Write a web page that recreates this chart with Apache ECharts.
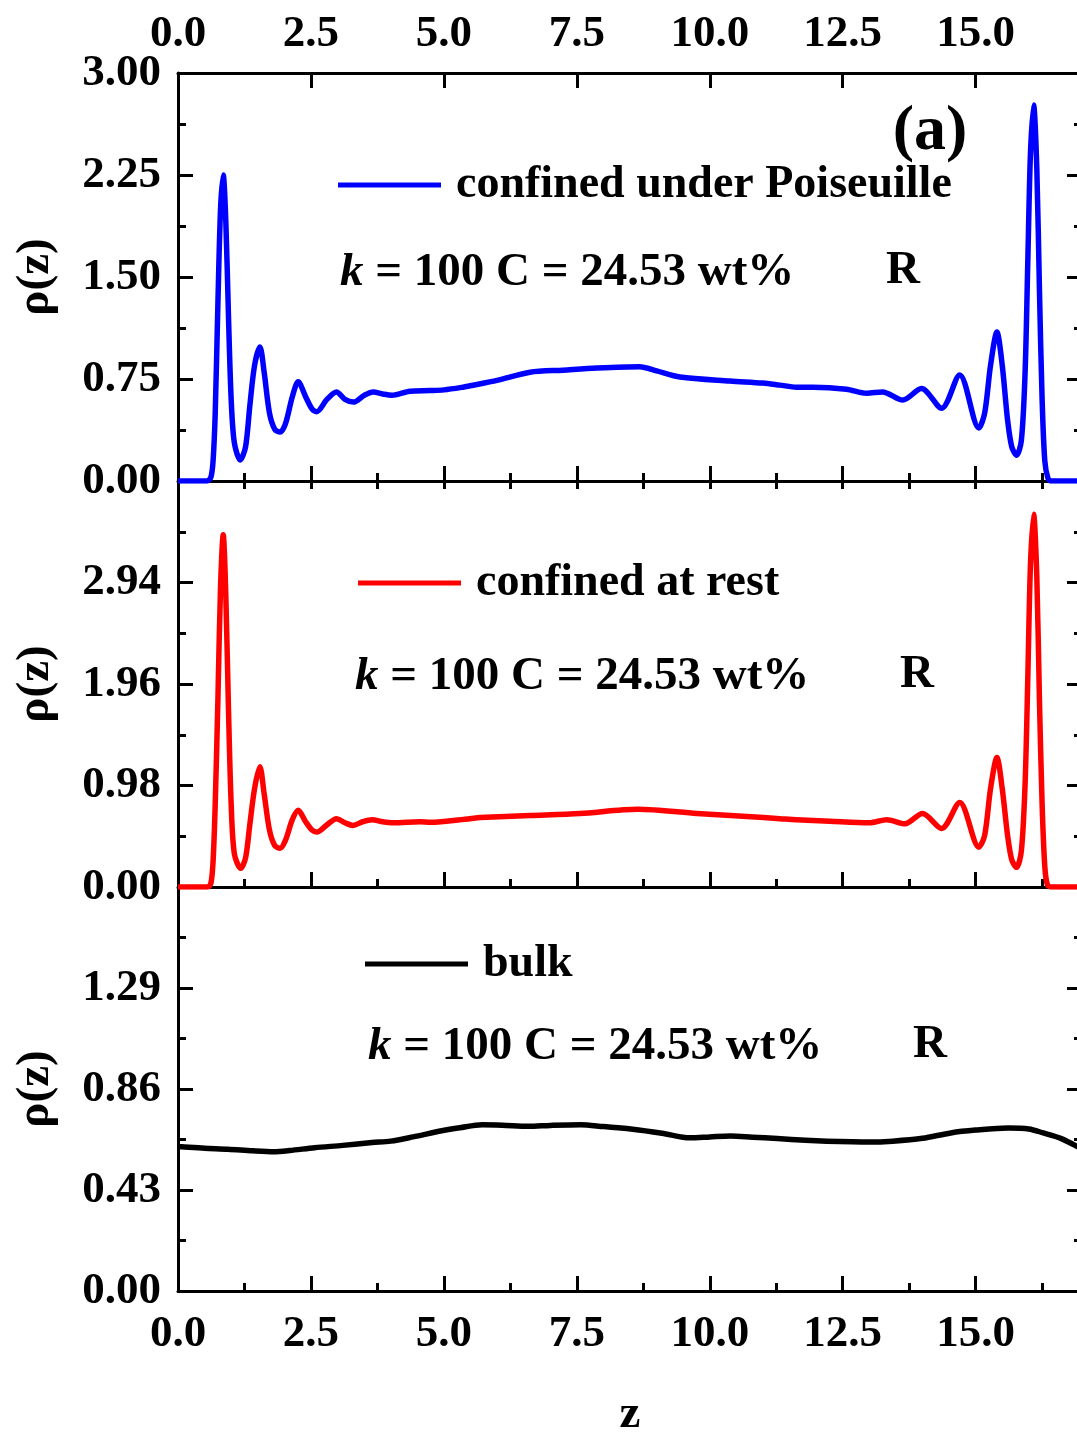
<!DOCTYPE html>
<html>
<head>
<meta charset="utf-8">
<script src="https://cdn.jsdelivr.net/npm/echarts@6/dist/echarts.min.js"></script>
<style>
  html, body { margin: 0; padding: 0; background: #fff; overflow: hidden; }
  #chart { width: 1090px; height: 1439px; }
</style>
</head>
<body>
<div id="chart"></div>
<script>
// Density profiles rho(z) across the channel
const poiseuilleZ = [0, 0.55, 0.62, 0.66, 0.70, 0.75, 0.80, 0.85, 0.90, 0.95, 1.00, 1.06, 1.17, 1.27, 1.35, 1.44, 1.54, 1.62, 1.72, 1.82, 1.92, 2.02, 2.15, 2.26, 2.40, 2.52, 2.61, 2.80, 2.98, 3.14, 3.30, 3.50, 3.67, 3.85, 4.02, 4.36, 4.74, 5.00, 5.36, 5.49, 6.00, 6.62, 7.24, 7.87, 8.68, 9.00, 9.44, 10.38, 11.00, 11.32, 11.63, 11.94, 12.57, 12.95, 13.25, 13.63, 13.98, 14.36, 14.70, 15.06, 15.17, 15.28, 15.40, 15.50, 15.60, 15.68, 15.77, 15.86, 15.93, 15.98, 16.03, 16.09, 16.15, 16.20, 16.25, 16.30, 16.36, 16.42, 17.0];
const poiseuilleRho = [0, 0, 0.03, 0.15, 0.50, 1.30, 2.00, 2.25, 1.90, 1.20, 0.60, 0.28, 0.155, 0.25, 0.55, 0.85, 0.985, 0.80, 0.50, 0.38, 0.36, 0.42, 0.62, 0.73, 0.62, 0.53, 0.51, 0.60, 0.655, 0.60, 0.58, 0.63, 0.655, 0.64, 0.63, 0.66, 0.665, 0.67, 0.69, 0.70, 0.74, 0.80, 0.815, 0.83, 0.84, 0.81, 0.765, 0.735, 0.72, 0.705, 0.69, 0.69, 0.675, 0.645, 0.655, 0.595, 0.68, 0.535, 0.78, 0.39, 0.50, 0.85, 1.095, 0.85, 0.45, 0.25, 0.19, 0.30, 0.80, 1.60, 2.40, 2.765, 2.30, 1.40, 0.60, 0.15, 0.02, 0, 0];

const restZ = [0, 0.56, 0.62, 0.66, 0.70, 0.75, 0.80, 0.85, 0.90, 0.95, 1.00, 1.06, 1.18, 1.27, 1.35, 1.44, 1.54, 1.62, 1.72, 1.82, 1.92, 2.02, 2.15, 2.26, 2.40, 2.52, 2.61, 2.80, 2.98, 3.14, 3.29, 3.47, 3.65, 3.85, 4.05, 4.55, 4.74, 5.49, 5.68, 6.62, 7.56, 8.65, 9.76, 10.70, 11.32, 11.63, 12.26, 13.00, 13.33, 13.67, 14.00, 14.36, 14.70, 15.06, 15.17, 15.28, 15.40, 15.50, 15.60, 15.68, 15.77, 15.86, 15.93, 15.98, 16.03, 16.09, 16.15, 16.20, 16.25, 16.30, 16.35, 16.42, 17.0];
const restRho = [0, 0, 0.04, 0.25, 0.80, 1.80, 2.90, 3.40, 2.80, 1.70, 0.80, 0.32, 0.18, 0.28, 0.60, 0.95, 1.16, 0.90, 0.55, 0.40, 0.375, 0.45, 0.65, 0.74, 0.63, 0.55, 0.53, 0.60, 0.66, 0.62, 0.595, 0.63, 0.65, 0.63, 0.62, 0.63, 0.625, 0.66, 0.67, 0.69, 0.71, 0.75, 0.71, 0.68, 0.66, 0.65, 0.635, 0.62, 0.65, 0.61, 0.71, 0.565, 0.815, 0.385, 0.50, 0.95, 1.25, 0.95, 0.50, 0.26, 0.19, 0.35, 1.00, 2.00, 3.10, 3.60, 3.00, 1.80, 0.80, 0.20, 0.02, 0, 0];

const bulkZ = [0, 0.07, 0.5, 0.94, 1.4, 1.8, 2.1, 2.57, 3.1, 3.65, 4.0, 4.42, 4.96, 5.3, 5.72, 6.1, 6.59, 7.0, 7.57, 8.0, 8.55, 9.1, 9.63, 10.0, 10.39, 10.8, 11.27, 11.8, 12.2, 12.68, 13.0, 13.44, 14.0, 14.53, 15.0, 15.61, 16.0, 16.27, 16.6, 16.86, 17.0];
const bulkRho = [0.615, 0.614, 0.608, 0.604, 0.597, 0.593, 0.598, 0.61, 0.62, 0.632, 0.638, 0.656, 0.682, 0.695, 0.708, 0.706, 0.701, 0.705, 0.708, 0.70, 0.689, 0.672, 0.652, 0.656, 0.66, 0.655, 0.649, 0.642, 0.638, 0.635, 0.634, 0.638, 0.65, 0.673, 0.685, 0.694, 0.69, 0.673, 0.65, 0.621, 0.605];

// Panel scales: [max, interval]
const panelY = [[3.00, 0.75], [3.92, 0.98], [1.72, 0.43]];
const zTicks = { min: 0, max: 17, major: 2.5, minor: 1.25 };

const seriesNames = ['confined under Poiseuille', 'confined at rest', 'bulk'];
const seriesColors = ['#0000ff', '#ff0000', '#000000'];

const FONT = '"Liberation Serif", "Times New Roman", serif';
const TICK_FS = 45;
const TXT_FS = 47;

const grids = [
  { left: 178, top: 73, width: 904, height: 408 },
  { left: 178, top: 481, width: 904, height: 406 },
  { left: 178, top: 887, width: 904, height: 407 }
];

function pairs(xs, ys) { return xs.map((x, i) => [x, ys[i]]); }

const lineAx = { show: true, onZero: false, lineStyle: { color: '#000', width: 3 } };
const tickLbl = { fontFamily: FONT, fontWeight: 'bold', fontSize: TICK_FS, color: '#000' };

function xMajor(gi, pos, labels, margin, extra) {
  return Object.assign({
    type: 'value', gridIndex: gi, position: pos,
    min: zTicks.min, max: zTicks.max, interval: zTicks.major,
    axisLine: lineAx,
    axisTick: { show: true, inside: true, length: 15, lineStyle: { width: 3, color: '#000' } },
    axisLabel: labels ? Object.assign({ show: true, margin: margin, showMaxLabel: false, formatter: v => v.toFixed(1) }, tickLbl) : { show: false },
    splitLine: { show: false }
  }, extra || {});
}
function xMinor(gi, pos) {
  return {
    type: 'value', gridIndex: gi, position: pos,
    min: zTicks.min, max: zTicks.max, interval: zTicks.minor,
    axisLine: { show: false },
    axisTick: { show: true, inside: true, length: 8, lineStyle: { width: 3, color: '#000' } },
    axisLabel: { show: false }, splitLine: { show: false }
  };
}

const xAxis = [
  xMajor(0, 'bottom', false), xMinor(0, 'bottom'),
  xMajor(0, 'top', true, 16), xMinor(0, 'top'),
  xMajor(1, 'bottom', false), xMinor(1, 'bottom'),
  xMajor(2, 'bottom', true, 21, {
    name: 'z', nameLocation: 'middle', nameGap: 100,
    nameTextStyle: { fontFamily: FONT, fontWeight: 'bold', fontSize: TXT_FS, color: '#000' }
  }),
  xMinor(2, 'bottom')
];

const yAxis = [];
panelY.forEach((p, gi) => {
  const [max, step] = p;
  yAxis.push({
    type: 'value', gridIndex: gi, position: 'left', min: 0, max: max, interval: step,
    name: 'ρ(z)', nameLocation: 'middle', nameGap: 119,
    nameTextStyle: { fontFamily: FONT, fontWeight: 'bold', fontSize: TXT_FS, color: '#000' },
    axisLine: lineAx,
    axisTick: { show: true, inside: true, length: 15, lineStyle: { width: 3, color: '#000' } },
    minorTick: { show: true, splitNumber: 2, length: 8, lineStyle: { width: 3, color: '#000' } },
    axisLabel: Object.assign({ show: true, margin: 17, showMaxLabel: gi === 0, formatter: v => v.toFixed(2) }, tickLbl),
    splitLine: { show: false }, minorSplitLine: { show: false }
  });
  yAxis.push({
    type: 'value', gridIndex: gi, position: 'right', min: 0, max: max, interval: step,
    axisLine: lineAx,
    axisTick: { show: true, inside: true, length: 15, lineStyle: { width: 3, color: '#000' } },
    minorTick: { show: true, splitNumber: 2, length: 8, lineStyle: { width: 3, color: '#000' } },
    axisLabel: { show: false }, splitLine: { show: false }, minorSplitLine: { show: false }
  });
});

const dataSets = [pairs(poiseuilleZ, poiseuilleRho), pairs(restZ, restRho), pairs(bulkZ, bulkRho)];
const series = dataSets.map((d, i) => ({
  name: seriesNames[i], type: 'line', xAxisIndex: [0, 4, 6][i], yAxisIndex: i * 2,
  data: d, showSymbol: false, symbol: 'none', smooth: 0.3,
  lineStyle: { color: seriesColors[i], width: 5.5, join: 'round' },
  itemStyle: { color: seriesColors[i] }, z: 3
}));

const legendPos = [[338, 185], [358, 583], [365, 964]];
const legend = legendPos.map((p, i) => ({
  left: p[0], top: p[1] - 25, padding: 0, orient: 'horizontal',
  data: [seriesNames[i]], icon: 'rect', itemWidth: 103, itemHeight: 5, itemGap: 0,
  selectedMode: false,
  textStyle: { fontFamily: FONT, fontWeight: 'bold', fontSize: 46, color: '#000', lineHeight: 50, padding: [0, 0, 0, 10] }
}));

const notePos = [[340, 274, 903, 271], [355, 678, 917, 675], [368, 1048, 930, 1045]];
const graphic = [];
notePos.forEach(p => {
  graphic.push({
    type: 'text', left: p[0], top: p[1] - 25, z: 10,
    style: {
      text: '{i|k} = 100 C = 24.53 wt%',
      rich: { i: { fontStyle: 'italic', fontFamily: FONT, fontWeight: 'bold', fontSize: TXT_FS } },
      fontFamily: FONT, fontWeight: 'bold', fontSize: TXT_FS, fill: '#000'
    }
  });
  graphic.push({
    type: 'text', x: p[2], y: p[3], z: 10,
    style: { text: 'R', fontFamily: FONT, fontWeight: 'bold', fontSize: TXT_FS, fill: '#000', align: 'center', verticalAlign: 'middle' }
  });
});
graphic.push({
  type: 'text', x: 930, y: 132, z: 10,
  style: { text: '(a)', fontFamily: FONT, fontWeight: 'bold', fontSize: 64, fill: '#000', align: 'center', verticalAlign: 'middle' }
});

const chart = echarts.init(document.getElementById('chart'), null, { renderer: 'canvas' });
chart.setOption({
  backgroundColor: '#fff',
  animation: false,
  grid: grids,
  xAxis: xAxis,
  yAxis: yAxis,
  legend: legend,
  series: series,
  graphic: graphic
});
</script>
</body>
</html>
